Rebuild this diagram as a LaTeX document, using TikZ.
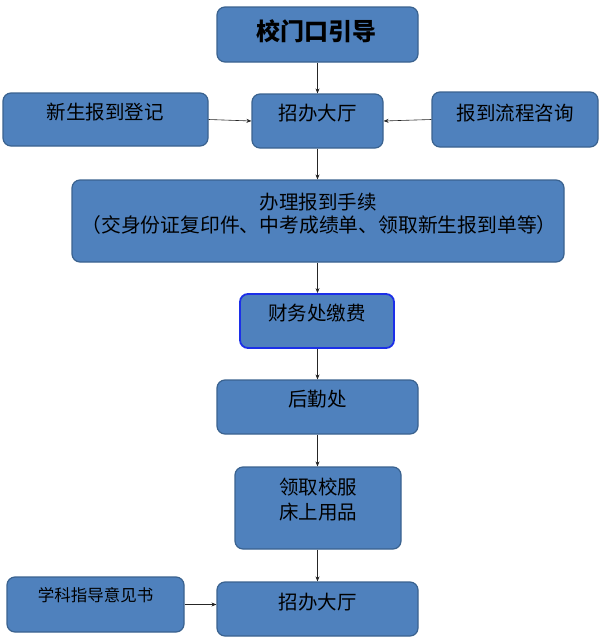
\documentclass[tikz,border=0pt]{standalone}
\usepackage{fontspec}
\setmainfont{Noto Sans CJK SC}
\usetikzlibrary{arrows.meta}
\definecolor{boxfill}{HTML}{4F81BD}
\definecolor{boxline}{HTML}{3A628F}
\definecolor{bluebord}{HTML}{1C2FE8}
\tikzset{
  box/.style={draw=boxline, fill=boxfill, line width=1.2pt, rounded corners=8pt, inner sep=0pt},
  bluebox/.style={box, draw=bluebord, line width=1.8pt},
  lbl/.style={inner sep=0pt, font=\fontsize{19.5}{23}\selectfont, text=black},
  conn/.style={draw=black!85, line width=0.6pt, -{Stealth[length=5pt,width=4pt]}}
}
\begin{document}
\begin{tikzpicture}[x=1pt,y=-1pt]
\useasboundingbox (0,0) rectangle (600,637);
% boxes
\node[box, minimum width=201pt, minimum height=55pt] (top) at (317.5,34.5) {};
\node[box, minimum width=205pt, minimum height=53pt] (left) at (105.5,119.5) {};
\node[box, minimum width=131pt, minimum height=54pt] (hall) at (317.5,121) {};
\node[box, minimum width=166pt, minimum height=55pt] (right) at (515,119.5) {};
\node[box, minimum width=492pt, minimum height=82pt] (proc) at (318,221) {};
\node[bluebox, minimum width=154pt, minimum height=54pt] (fin) at (317,321) {};
\node[box, minimum width=201pt, minimum height=54pt] (log) at (317.5,407) {};
\node[box, minimum width=166pt, minimum height=82pt] (unif) at (318,508) {};
\node[box, minimum width=201pt, minimum height=54pt] (hall2) at (317.5,609) {};
\node[box, minimum width=177pt, minimum height=55pt] (xk) at (95.5,604.5) {};
% labels
\node[lbl, font=\fontsize{24}{28}\selectfont\bfseries] (ttop) at (316.5,31) {校门口引导};
\node[lbl] (tleft) at (105,112) {新生报到登记};
\node[lbl] (thall) at (317.5,113) {招办大厅};
\node[lbl] (tright) at (515,113) {报到流程咨询};
\node[lbl] (tproc1) at (318,202) {办理报到手续};
\node[lbl, font=\fontsize{19.8}{23}\selectfont] (tproc2) at (319,225) {（交身份证复印件、中考成绩单、领取新生报到单等）};
\node[lbl] (tfin) at (317,313) {财务处缴费};
\node[lbl] (tlog) at (317.5,399) {后勤处};
\node[lbl] (tunif1) at (318,487) {领取校服};
\node[lbl] (tunif2) at (318,512) {床上用品};
\node[lbl] (thall2) at (317.5,602) {招办大厅};
\node[lbl, font=\fontsize{16.5}{20}\selectfont] (txk) at (95.5,595) {学科指导意见书};
% connectors
\draw[conn] (top.south) -- (hall.north);
\draw[conn] (left.east) -- (hall.west);
\draw[conn] (right.west) -- (hall.east);
\draw[conn] (hall.south) -- (proc.north -| hall.south);
\draw[conn] (proc.south -| hall.south) -- (fin.north -| hall.south);
\draw[conn] (fin.south -| hall.south) -- (log.north -| hall.south);
\draw[conn] (log.south -| hall.south) -- (unif.north -| hall.south);
\draw[conn] (unif.south -| hall.south) -- (hall2.north -| hall.south);
\draw[conn] (xk.east) -- (xk.east -| hall2.west);
\end{tikzpicture}
\end{document}
